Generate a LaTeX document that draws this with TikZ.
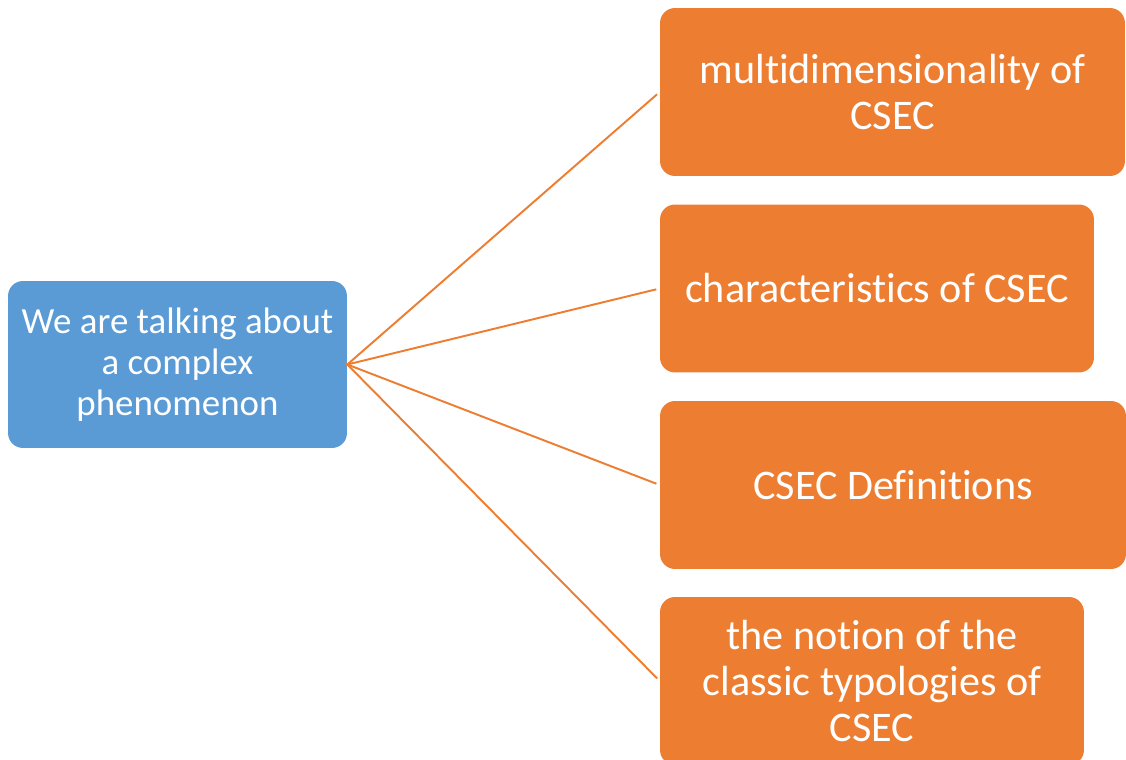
\documentclass[tikz,border=0pt]{standalone}
\usepackage{fontspec}
\setmainfont{Carlito}[Ligatures=NoCommon]
\definecolor{topicblue}{HTML}{5B9BD5}
\definecolor{topicorange}{HTML}{ED7D31}

\begin{document}
\begin{tikzpicture}[x=0.02cm, y=-0.02cm,
  box/.style={rounded corners=8.5pt, text=white, align=center, inner sep=0pt,
    minimum height=3.36cm, font=\fontsize{24}{26}\selectfont},
  link/.style={draw=topicorange, line width=1.1pt}]
  \useasboundingbox (0,0) rectangle (1126,760);

  % Main topic
  \node[box, fill=topicblue, minimum width=6.78cm, minimum height=3.34cm,
    font=\fontsize{21}{23.5}\selectfont] (topic) at (177.5,364.5)
    {We are talking about\\a complex\\phenomenon};

  % Sub topics
  \node[box, fill=topicorange, minimum width=9.3cm] (multi) at (892.5,92) {multidimensionality of\\CSEC};
  \node[box, fill=topicorange, minimum width=8.68cm] (chars) at (877,288.5) {characteristics of CSEC};
  \node[box, fill=topicorange, minimum width=9.32cm] (defs) at (893,485) {CSEC Definitions};
  \node[box, fill=topicorange, minimum width=8.48cm] (typo) at (872,681) {the notion of the\\classic typologies of\\CSEC};

  % Links
  \foreach \sub in {multi, chars, defs, typo}
    \draw[link, shorten <=-1pt, shorten >=2pt] (topic.east) -- (\sub.west);
\end{tikzpicture}
\end{document}
